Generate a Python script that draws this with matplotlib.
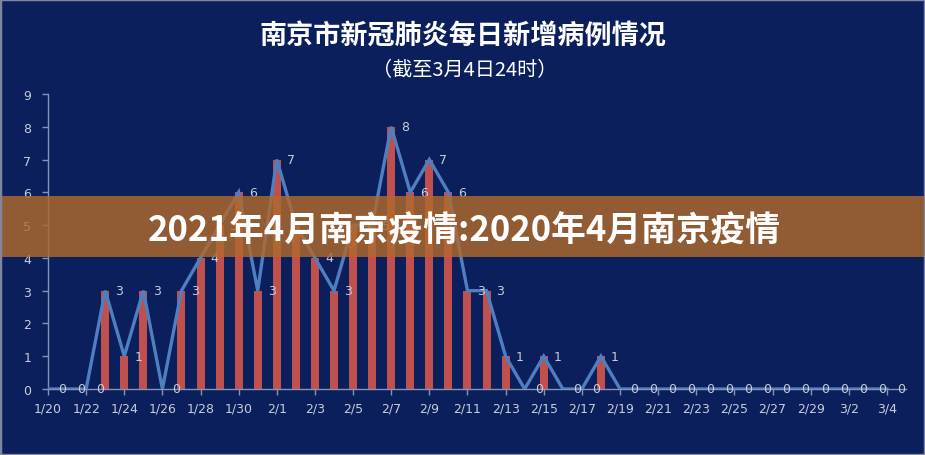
import matplotlib
matplotlib.use("Agg")
import matplotlib.pyplot as plt
from matplotlib.patches import Rectangle

dates = ["1/20", "1/21", "1/22", "1/23", "1/24", "1/25", "1/26", "1/27", "1/28", "1/29",
         "1/30", "1/31", "2/1", "2/2", "2/3", "2/4", "2/5", "2/6", "2/7", "2/8",
         "2/9", "2/10", "2/11", "2/12", "2/13", "2/14", "2/15", "2/16", "2/17", "2/18",
         "2/19", "2/20", "2/21", "2/22", "2/23", "2/24", "2/25", "2/26", "2/27", "2/28",
         "2/29", "3/1", "3/2", "3/3", "3/4"]
new_cases = [0, 0, 0, 3, 1, 3, 0, 3, 4, 5,
             6, 3, 7, 5, 4, 3, 5, 5, 8, 6,
             7, 6, 3, 3, 1, 0, 1, 0, 0, 1,
             0, 0, 0, 0, 0, 0, 0, 0, 0, 0,
             0, 0, 0, 0, 0]

title = "南京市新冠肺炎每日新增病例情况"
subtitle = "（截至3月4日24时）"
banner = "2021年4月南京疫情:2020年4月南京疫情"

BG = "#0a1f5c"
BAR = "#c0504d"
LINE = "#4f7fc0"
TXT = "#c9cdd8"
AXC = "#8793b3"

plt.rcParams['font.family'] = ['DejaVu Sans', 'Noto Sans CJK SC']

fig = plt.figure(figsize=(9.25, 4.56), dpi=100, facecolor=BG)
ax = fig.add_axes([48 / 925, 66 / 456, 858 / 925, 295 / 456])
ax.set_facecolor(BG)

x = list(range(len(dates)))
ax.bar(x, new_cases, width=0.42, color=BAR, zorder=2)
ax.plot(x, new_cases, color=LINE, lw=2.4, zorder=3, solid_joinstyle='miter')
for xi, v in zip(x, new_cases):
    ax.annotate(str(v), (xi, v), xytext=(10, 0), textcoords='offset pixels',
                ha='left', va='center', color=TXT, fontsize=9, zorder=4)

ax.set_xlim(0, 45)
ax.set_ylim(0, 9)
ax.set_yticks(range(0, 10))
ax.set_xticks(x[::2])
ax.set_xticklabels(dates[::2])
ax.tick_params(axis='both', colors=AXC, labelcolor=TXT, labelsize=9, length=4, width=1)
ax.tick_params(axis='y', pad=8)
ax.tick_params(axis='x', pad=5)
for s in ['top', 'right']:
    ax.spines[s].set_visible(False)
for s in ['left', 'bottom']:
    ax.spines[s].set_color(AXC)
    ax.spines[s].set_linewidth(1)

fig.text(0.5, 1 - 37 / 456, title, ha='center', va='center', color='white',
         fontsize=19.5, fontweight='bold', family=['Noto Sans CJK SC'])
fig.text(0.502, 1 - 71 / 456, subtitle, ha='center', va='center', color='white',
         fontsize=14.5, family=['Noto Sans CJK SC'])

# banner overlay
fig.patches.append(Rectangle((0, (456 - 258) / 456), 1, 61 / 456, transform=fig.transFigure,
                             facecolor="#b06a2c", alpha=0.82, edgecolor='none', zorder=10))
fig.text(0.502, 1 - 231 / 456, banner, ha='center', va='center', color='white',
         fontsize=25, fontweight='bold', family=['Noto Sans CJK SC'], zorder=11)

# frame
fig.patches.append(Rectangle((0, 0), 1, 1, transform=fig.transFigure, facecolor='none',
                             edgecolor='#7f8798', linewidth=2.5, zorder=12))

fig.savefig("out.png", dpi=100, facecolor=BG)
